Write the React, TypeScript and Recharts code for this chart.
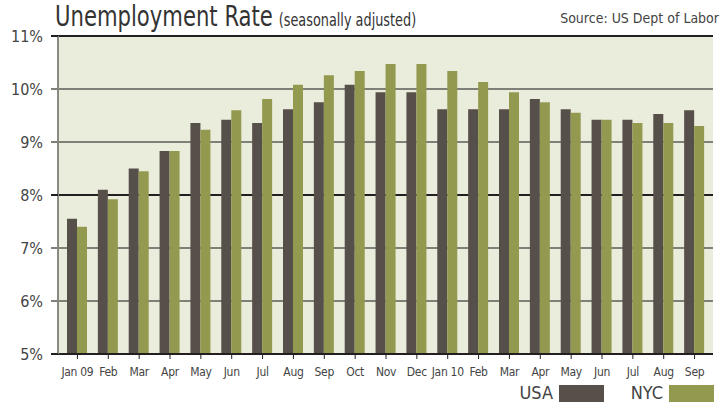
import { BarChart, Bar, XAxis, YAxis, CartesianGrid } from 'recharts';

const months = [
  'Jan 09', 'Feb', 'Mar', 'Apr', 'May', 'Jun', 'Jul', 'Aug', 'Sep', 'Oct', 'Nov',
  'Dec', 'Jan 10', 'Feb', 'Mar', 'Apr', 'May', 'Jun', 'Jul', 'Aug', 'Sep',
];
const usa = [
  7.55, 8.1, 8.5, 8.83, 9.36, 9.42, 9.36, 9.62, 9.75, 10.08, 9.94,
  9.94, 9.62, 9.62, 9.62, 9.81, 9.62, 9.42, 9.42, 9.53, 9.6,
];
const nyc = [
  7.4, 7.92, 8.45, 8.83, 9.23, 9.6, 9.81, 10.08, 10.26, 10.34, 10.47,
  10.47, 10.34, 10.13, 9.94, 9.75, 9.55, 9.42, 9.36, 9.36, 9.3,
];
const yTicks = [5, 6, 7, 8, 9, 10, 11];
const darkTicks = [5, 8, 11];

const USA_COLOR = '#574f4a';
const NYC_COLOR = '#939a4f';
const DARK = '#231f20';
const GRAY = '#7f8078';
const FONT = "'Liberation Sans Narrow', 'DejaVu Sans Condensed', 'Roboto', sans-serif";

const data = months.map((m, i) => ({ month: m, usa: usa[i], nyc: nyc[i] }));

// y軸の目盛り：左へ少しはみ出す線と%ラベル
function YTick(props: any) {
  const { x, y, payload } = props;
  const dark = darkTicks.includes(payload.value);
  return (
    <g>
      <line x1={x + 8} x2={x + 15} y1={y} y2={y} stroke={dark ? DARK : GRAY} strokeWidth={2} />
      <text x={x} y={y} dy="0.36em" textAnchor="end" fontSize={16} fill="#444" fontFamily={FONT}>
        {payload.value}%
      </text>
    </g>
  );
}

// グリッド線：5%, 8%, 11% は黒、それ以外はグレー
function gridLine(props: any) {
  const v = yTicks[props.index];
  const dark = darkTicks.includes(v);
  return (
    <line
      key={`h-${props.index}`}
      x1={props.x1}
      x2={props.x2}
      y1={props.y1}
      y2={props.y2}
      stroke={dark ? DARK : GRAY}
      strokeWidth={2}
    />
  );
}

export default function App() {
  return (
    <div style={{ position: 'absolute', left: 0, top: 0, width: 728, height: 404, background: '#fff', fontFamily: FONT }}>
      <div
        style={{
          position: 'absolute',
          left: 55,
          top: 0,
          color: '#333',
          whiteSpace: 'nowrap',
          lineHeight: '34px',
          transform: 'scaleX(0.84)',
          transformOrigin: 'left top',
        }}
      >
        <span style={{ fontSize: 28 }}>Unemployment Rate</span>
        <span style={{ fontSize: 17, marginLeft: 7 }}>(seasonally adjusted)</span>
      </div>
      <div style={{ position: 'absolute', right: 9, top: 10, fontSize: 14, color: '#444', whiteSpace: 'nowrap' }}>
        Source: US Dept of Labor
      </div>

      <BarChart
        width={728}
        height={404}
        data={data}
        margin={{ top: 36, right: 15, left: 0, bottom: 0 }}
        barSize={10}
        barGap={0}
      >
        <CartesianGrid vertical={false} horizontal={gridLine} fill="#eaecdc" />
        <XAxis
          dataKey="month"
          interval={0}
          height={50}
          padding={{ left: 4, right: 3 }}
          axisLine={{ stroke: DARK, strokeWidth: 2 }}
          tickLine={{ stroke: DARK }}
          tickSize={5}
          tickMargin={8}
          tick={{ fontSize: 12, fill: '#444', fontFamily: FONT, letterSpacing: -0.3 }}
        />
        <YAxis
          domain={[5, 11]}
          ticks={yTicks}
          width={58}
          axisLine={{ stroke: '#8a8a84', strokeWidth: 2 }}
          tickLine={false}
          tickSize={7}
          tickMargin={8}
          tick={<YTick />}
        />
        <YAxis
          yAxisId="right"
          orientation="right"
          domain={[5, 11]}
          width={0}
          axisLine={{ stroke: DARK, strokeWidth: 2 }}
          tick={false}
          tickLine={false}
        />
        <Bar dataKey="usa" fill={USA_COLOR} isAnimationActive={false} />
        <Bar dataKey="nyc" fill={NYC_COLOR} isAnimationActive={false} />
      </BarChart>

      <div style={{ position: 'absolute', top: 383, left: 0, width: 728, height: 20, fontSize: 18, color: '#444' }}>
        <span style={{ position: 'absolute', right: 728 - 553, top: -1 }}>USA</span>
        <span style={{ position: 'absolute', left: 559, top: 2, width: 45, height: 17, background: USA_COLOR }} />
        <span style={{ position: 'absolute', right: 728 - 663, top: -1 }}>NYC</span>
        <span style={{ position: 'absolute', left: 669, top: 2, width: 45, height: 17, background: NYC_COLOR }} />
      </div>
    </div>
  );
}
